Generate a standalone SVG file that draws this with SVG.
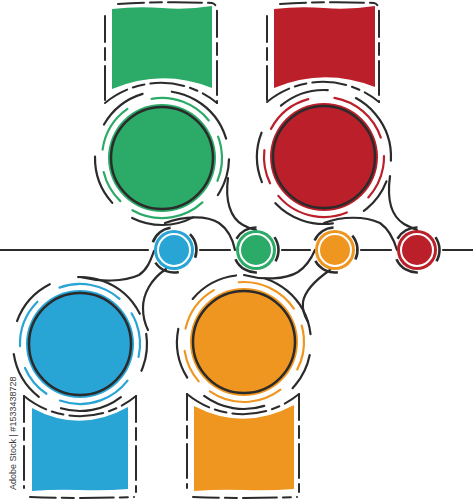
<svg xmlns="http://www.w3.org/2000/svg" width="473" height="500" viewBox="0 0 473 500">
<style>
.k{fill:none;stroke:#2b2b2b;stroke-width:2.2;stroke-linecap:round}
.frame{fill:none;stroke:#2b2b2b;stroke-width:2;stroke-linecap:round;stroke-dasharray:26 6 12 6 34 6 8 6}
.ring-k{fill:none;stroke:#2b2b2b;stroke-width:2.2;stroke-linecap:round;stroke-dasharray:12 7 18 5 9 8 15 6 12 8}
.ring-c{fill:none;stroke-width:2.2;stroke-linecap:round;stroke-dasharray:17 5 12 7 20 4 9 6 13 7}
.edge{fill:none;stroke:#2b2b2b;stroke-width:2.5}
.sw{fill:none;stroke:#fff;stroke-width:2}
.sk{fill:none;stroke:#2b2b2b;stroke-width:2.6;stroke-dasharray:17 15 18 16 19 15}
.wm{font-family:"Liberation Sans",Arial,sans-serif;font-size:9px;fill:#3a3a3a}
</style>
<rect width="473" height="500" fill="#fff"/>
<g id="connectors" class="k">
<path d="M0,250 H148 M200,250 H230 M282,250 H310 M361,250 H391 M443,250 H473"/>
<path d="M80,277 C100,282 124,282 139,275 C148,269 151,259 154,251"/>
<path d="M166,269 C151,279 143,294 143,308 C143,317 145,324 148,330"/>
<path d="M165,223 C184,216 206,215 219,223 C229,230 233,240 235,250"/>
<path d="M228,178 C225,200 230,218 243,225 C248,228 252,229 256,230"/>
<path d="M244,275 C262,280 285,280 298,272 C307,266 312,257 315,250"/>
<path d="M330,270 C317,279 305,290 303,302 C302,310 305,317 308,322"/>
<path d="M324,223 C342,216 365,216 380,223 C390,230 394,240 397,250"/>
<path d="M390,176 C387,198 391,216 404,224 C409,227 413,228 417,230"/>
</g>
<g id="node-green">
<path d="M112,9 Q137,6 162,8 T212,6 L212,88 Q162,68 112,89 Z" fill="#2BAA68"/>
<path class="frame" d="M105,16 L105,103"/>
<path class="frame" d="M118,4 Q165,1 212,3 Q217,4 217,12 L217,103"/>
<path class="frame" d="M105,103 A88 88 0 0 1 217,103"/>
<circle cx="162" cy="158" r="54" fill="#2BAA68"/>
<circle class="edge" cx="162" cy="158" r="51"/>
<circle class="ring-c" stroke="#2BAA68" cx="162" cy="158" r="60" pathLength="100" transform="rotate(-100 162 158)"/>
<circle class="ring-k" cx="162" cy="158" r="67" pathLength="100" transform="rotate(-150 162 158)"/>
</g>
<g id="node-red">
<path d="M274,9 Q299,6 324,8 T375,6 L375,87 Q324,67 274,88 Z" fill="#BB1F2A"/>
<path class="frame" d="M267,16 L267,102"/>
<path class="frame" d="M280,4 Q327,1 374,3 Q379,4 379,12 L379,102"/>
<path class="frame" d="M267,102 A88 88 0 0 1 379,102"/>
<circle cx="324" cy="157" r="54" fill="#BB1F2A"/>
<circle class="edge" cx="324" cy="157" r="51"/>
<circle class="ring-c" stroke="#BB1F2A" cx="324" cy="157" r="60" pathLength="100" transform="rotate(-80 324 157)"/>
<circle class="ring-k" cx="324" cy="157" r="67" pathLength="100" transform="rotate(-130 324 157)"/>
</g>
<g id="node-blue">
<path d="M32,408 Q80,434 128,407 L128,489 Q104,491 80,490 T32,491 Z" fill="#28A4D5"/>
<path class="frame" d="M24,396 L24,488"/>
<path class="frame" d="M30,497 Q80,499 134,497"/>
<path class="frame" d="M136,396 L136,492"/>
<path class="frame" d="M24,396 A88 88 0 0 0 136,396"/>
<circle cx="80" cy="344" r="54" fill="#28A4D5"/>
<circle class="edge" cx="80" cy="344" r="51"/>
<circle class="ring-c" stroke="#28A4D5" cx="80" cy="344" r="60" pathLength="100" transform="rotate(-110 80 344)"/>
<circle class="ring-k" cx="80" cy="344" r="67" pathLength="100" transform="rotate(-160 80 344)"/>
</g>
<g id="node-orange">
<path d="M194,406 Q244,432 294,405 L294,489 Q268,491 244,490 T194,491 Z" fill="#EF9620"/>
<path class="frame" d="M187,394 L187,488"/>
<path class="frame" d="M193,497 Q244,499 297,497"/>
<path class="frame" d="M299,394 L299,492"/>
<path class="frame" d="M187,394 A88 88 0 0 0 299,394"/>
<circle cx="244" cy="342" r="54" fill="#EF9620"/>
<circle class="edge" cx="244" cy="342" r="51"/>
<circle class="ring-c" stroke="#EF9620" cx="244" cy="342" r="60" pathLength="100" transform="rotate(-95 244 342)"/>
<circle class="ring-k" cx="244" cy="342" r="67" pathLength="100" transform="rotate(-140 244 342)"/>
</g>
<g id="dot-blue">
<circle cx="174" cy="250" r="20" fill="#28A4D5"/>
<circle class="sw" cx="174" cy="250" r="16"/>
<circle class="sk" cx="174" cy="250" r="22.5" pathLength="100" transform="rotate(-160 174 250)"/>
</g>
<g id="dot-green">
<circle cx="256" cy="250" r="20" fill="#2BAA68"/>
<circle class="sw" cx="256" cy="250" r="16"/>
<circle class="sk" cx="256" cy="250" r="22.5" pathLength="100" transform="rotate(-150 256 250)"/>
</g>
<g id="dot-orange">
<circle cx="335" cy="250" r="20" fill="#EF9620"/>
<circle class="sw" cx="335" cy="250" r="16"/>
<circle class="sk" cx="335" cy="250" r="22.5" pathLength="100" transform="rotate(-155 335 250)"/>
</g>
<g id="dot-red">
<circle cx="417" cy="250" r="20" fill="#BB1F2A"/>
<circle class="sw" cx="417" cy="250" r="16"/>
<circle class="sk" cx="417" cy="250" r="22.5" pathLength="100" transform="rotate(-150 417 250)"/>
</g>
<text class="wm" transform="translate(16,490) rotate(-90)">Adobe Stock | #1533438728</text>
</svg>
